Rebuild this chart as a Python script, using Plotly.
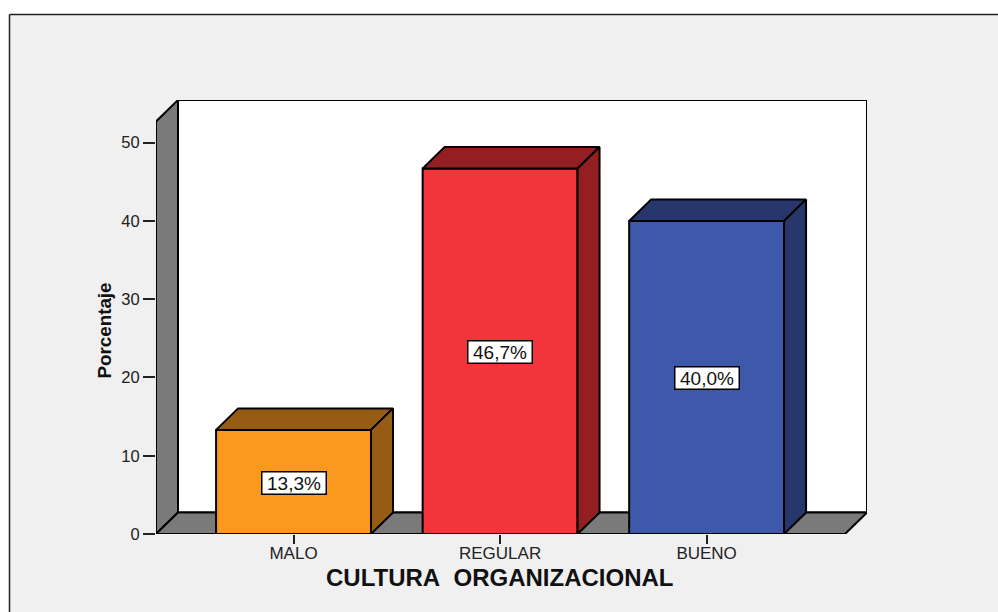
import plotly.graph_objects as go

categories = ["MALO", "REGULAR", "BUENO"]
values = [13.3, 46.7, 40.0]
value_labels = ["13,3%", "46,7%", "40,0%"]
front_colors = ["#fb991f", "#f4343b", "#3f59aa"]
top_colors = ["#965c14", "#931f23", "#27376c"]
y_ticks = [0, 10, 20, 30, 40, 50]
x_title = "CULTURA\u00a0\u00a0ORGANIZACIONAL"
y_title = "Porcentaje"

# oblique depth of the pseudo-3D box, in axis units
DX, DY = 0.1065, 2.75
X0, X1 = -0.666, 2.67
Y_TOP = 52.7
BAR_W = 0.75
WALL = "#7a7a7a"
LINE = dict(color="#000000", width=2)

W, H = 998, 612
L, T, R, B = 156, 100, 131, 78
pw, ph = W - L - R, H - T - B

fig = go.Figure()

def poly(pts):
    return "M " + " L ".join(f"{x},{y}" for x, y in pts) + " Z"

panel_l = (9.5 - L) / pw
panel_r = (W + 20 - L) / pw
panel_b = (T + ph - (H + 20)) / ph
panel_t = (T + ph - 14.5) / ph

shapes = [
    dict(type="rect", xref="paper", yref="paper", layer="below",
         x0=panel_l, x1=panel_r, y0=panel_b, y1=panel_t,
         fillcolor="#f0f0f0", line=dict(width=0)),
    dict(type="line", xref="paper", yref="paper", layer="below",
         x0=panel_l, x1=panel_r, y0=panel_t, y1=panel_t, line=dict(color="#222222", width=1.5)),
    dict(type="line", xref="paper", yref="paper", layer="below",
         x0=panel_l, x1=panel_l, y0=panel_b, y1=panel_t, line=dict(color="#222222", width=1.5)),
    # back wall
    dict(type="path", layer="below", xref="x", yref="y", fillcolor="#ffffff", line=LINE,
         path=poly([(X0 + DX, DY), (X1 + DX, DY), (X1 + DX, Y_TOP + DY), (X0 + DX, Y_TOP + DY)])),
    # left wall
    dict(type="path", layer="below", xref="x", yref="y", fillcolor=WALL, line=LINE,
         path=poly([(X0, 0), (X0 + DX, DY), (X0 + DX, Y_TOP + DY), (X0, Y_TOP)])),
    # floor
    dict(type="path", layer="below", xref="x", yref="y", fillcolor=WALL, line=LINE,
         path=poly([(X0, 0), (X1, 0), (X1 + DX, DY), (X0 + DX, DY)])),
]

xs = list(range(len(categories)))

fig.add_trace(go.Bar(x=xs, y=values, width=BAR_W, marker=dict(color=front_colors, line=LINE),
                     hoverinfo="skip", showlegend=False))

for i, v in enumerate(values):
    xl, xr = i - BAR_W / 2, i + BAR_W / 2
    fig.add_trace(go.Scatter(x=[xl, xr, xr + DX, xl + DX, xl], y=[v, v, v + DY, v + DY, v],
                             mode="lines", fill="toself", fillcolor=top_colors[i], line=LINE,
                             hoverinfo="skip", showlegend=False))
    fig.add_trace(go.Scatter(x=[xr, xr + DX, xr + DX, xr, xr], y=[0, DY, v + DY, v, 0],
                             mode="lines", fill="toself", fillcolor=top_colors[i], line=LINE,
                             hoverinfo="skip", showlegend=False))

annotations = [
    dict(x=i, y=v / 2, yshift=-1, text=value_labels[i], showarrow=False, xref="x", yref="y",
         width=63, height=21, align="center", valign="middle",
         font=dict(family="Liberation Sans", size=19, color="#111111"),
         bgcolor="#ffffff", bordercolor="#000000", borderwidth=1.5, borderpad=0)
    for i, v in enumerate(values)
]
annotations.append(dict(x=1, y=0, xref="x", yref="y", yshift=-43, text=f"<b>{x_title}</b>",
                        showarrow=False, font=dict(family="Liberation Sans", size=24, color="#111111")))
annotations.append(dict(x=X0, y=26, xref="x", yref="y", xshift=-52, text=f"<b>{y_title}</b>", textangle=-90,
                        showarrow=False, font=dict(family="Liberation Sans", size=18.8, color="#111111")))

fig.update_layout(
    width=W, height=H, autosize=False,
    margin=dict(l=L, r=R, t=T, b=B, pad=0),
    paper_bgcolor="#ffffff", plot_bgcolor="rgba(0,0,0,0)",
    showlegend=False, shapes=shapes, annotations=annotations,
    xaxis=dict(range=[X0, X1 + DX], tickvals=xs, ticktext=categories, showgrid=False, zeroline=False,
               showline=False, ticks="outside", ticklen=9, tickwidth=2, tickcolor="#222222",
               ticklabelstandoff=-5,
               tickfont=dict(family="Liberation Sans", size=17, color="#222222")),
    yaxis=dict(range=[0, Y_TOP + DY], tickvals=y_ticks, showgrid=False, zeroline=False,
               showline=False, ticks="outside", ticklen=12, tickwidth=2, tickcolor="#222222",
               tickfont=dict(family="Liberation Sans", size=16.5, color="#222222")),
)

fig.write_html("out.html", config={"displayModeBar": False},
               post_script="document.body.style.margin='0';document.body.style.overflow='hidden';")
